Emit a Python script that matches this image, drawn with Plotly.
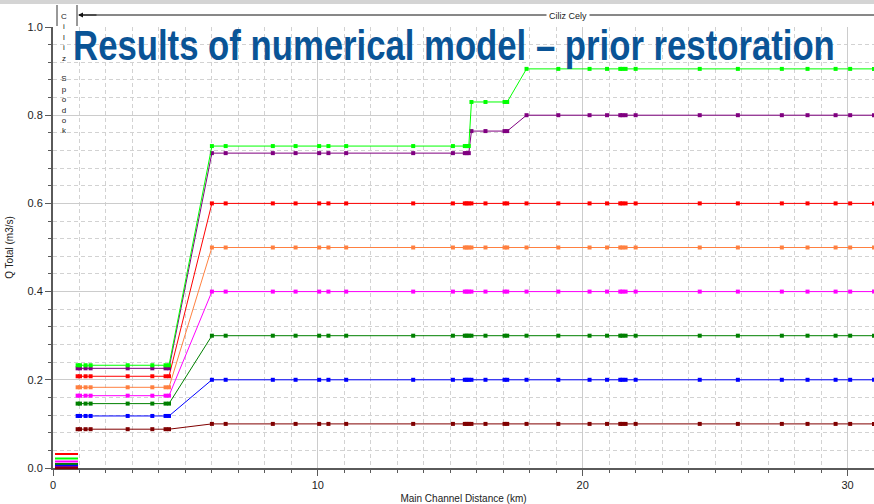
import plotly.graph_objects as go

# Main channel distance of cross sections (km)
distance_km = [0.93, 1.02, 1.23, 1.42, 2.82, 3.75, 4.25, 4.38,
               6.0, 6.52, 8.30, 9.16, 10.05, 10.4, 11.07, 13.6, 15.1, 15.55, 15.62, 15.7,
               15.8,
               16.33, 17.05, 17.15,
               17.88, 19.08, 20.26, 20.92, 21.42, 21.5, 21.62, 22.0, 24.42, 25.86, 27.52,
               28.49, 29.55, 30.1, 31.0]

q_lime = [0.233, 0.233, 0.233, 0.233, 0.233, 0.233, 0.233, 0.233,
          0.73, 0.73, 0.73, 0.73, 0.73, 0.73, 0.73, 0.73, 0.73, 0.73, 0.73, 0.73,
          0.83,
          0.83, 0.83, 0.83,
          0.905, 0.905, 0.905, 0.905, 0.905, 0.905, 0.905, 0.905, 0.905, 0.905, 0.905,
          0.905, 0.905, 0.905, 0.905]
q_purple = [0.226, 0.226, 0.226, 0.226, 0.226, 0.226, 0.226, 0.226,
            0.714, 0.714, 0.714, 0.714, 0.714, 0.714, 0.714, 0.714, 0.714, 0.714, 0.714, 0.714,
            0.764,
            0.764, 0.764, 0.764,
            0.80, 0.80, 0.80, 0.80, 0.80, 0.80, 0.80, 0.80, 0.80, 0.80, 0.80,
            0.80, 0.80, 0.80, 0.80]
q_red = [0.208, 0.208, 0.208, 0.208, 0.208, 0.208, 0.208, 0.208,
         0.60, 0.60, 0.60, 0.60, 0.60, 0.60, 0.60, 0.60, 0.60, 0.60, 0.60, 0.60,
         0.60,
         0.60, 0.60, 0.60,
         0.60, 0.60, 0.60, 0.60, 0.60, 0.60, 0.60, 0.60, 0.60, 0.60, 0.60,
         0.60, 0.60, 0.60, 0.60]
q_orange = [0.183, 0.183, 0.183, 0.183, 0.183, 0.183, 0.183, 0.183,
            0.50, 0.50, 0.50, 0.50, 0.50, 0.50, 0.50, 0.50, 0.50, 0.50, 0.50, 0.50,
            0.50,
            0.50, 0.50, 0.50,
            0.50, 0.50, 0.50, 0.50, 0.50, 0.50, 0.50, 0.50, 0.50, 0.50, 0.50,
            0.50, 0.50, 0.50, 0.50]
q_magenta = [0.164, 0.164, 0.164, 0.164, 0.164, 0.164, 0.164, 0.164,
             0.40, 0.40, 0.40, 0.40, 0.40, 0.40, 0.40, 0.40, 0.40, 0.40, 0.40, 0.40,
             0.40,
             0.40, 0.40, 0.40,
             0.40, 0.40, 0.40, 0.40, 0.40, 0.40, 0.40, 0.40, 0.40, 0.40, 0.40,
             0.40, 0.40, 0.40, 0.40]
q_green = [0.146, 0.146, 0.146, 0.146, 0.146, 0.146, 0.146, 0.146,
           0.30, 0.30, 0.30, 0.30, 0.30, 0.30, 0.30, 0.30, 0.30, 0.30, 0.30, 0.30,
           0.30,
           0.30, 0.30, 0.30,
           0.30, 0.30, 0.30, 0.30, 0.30, 0.30, 0.30, 0.30, 0.30, 0.30, 0.30,
           0.30, 0.30, 0.30, 0.30]
q_blue = [0.118, 0.118, 0.118, 0.118, 0.118, 0.118, 0.118, 0.118,
          0.20, 0.20, 0.20, 0.20, 0.20, 0.20, 0.20, 0.20, 0.20, 0.20, 0.20, 0.20,
          0.20,
          0.20, 0.20, 0.20,
          0.20, 0.20, 0.20, 0.20, 0.20, 0.20, 0.20, 0.20, 0.20, 0.20, 0.20,
          0.20, 0.20, 0.20, 0.20]
q_maroon = [0.088, 0.088, 0.088, 0.088, 0.088, 0.088, 0.088, 0.088,
            0.10, 0.10, 0.10, 0.10, 0.10, 0.10, 0.10, 0.10, 0.10, 0.10, 0.10, 0.10,
            0.10,
            0.10, 0.10, 0.10,
            0.10, 0.10, 0.10, 0.10, 0.10, 0.10, 0.10, 0.10, 0.10, 0.10, 0.10,
            0.10, 0.10, 0.10, 0.10]

series_names = ["PF 8", "PF 7", "PF 6", "PF 5", "PF 4", "PF 3", "PF 2", "PF 1"]
series_values = [q_maroon, q_blue, q_green, q_magenta, q_orange, q_red, q_purple, q_lime]
series_colors = ["#800000", "#0000FF", "#008000", "#FF00FF", "#FF8040", "#FF0000", "#800080", "#00FF00"]

title_text = "Results of numerical model \u2013 prior restoration"
reach_upper = "Ciliz Spodok"
reach_main = "Ciliz Cely"

fig = go.Figure()
for name, vals, col in zip(series_names, series_values, series_colors):
    fig.add_trace(go.Scatter(
        x=distance_km, y=vals, mode="lines+markers", name=name,
        line=dict(color=col, width=1),
        marker=dict(symbol="square", size=4, color=col),
        cliponaxis=True,
    ))

L, T, B = 53, 27, 36
W, H = 874, 504
pw = W - L
ph = H - T - B


def px_x(p):
    return (p - L) / pw


def px_y(p):
    return (H - B - p) / ph


shapes = []
# window strip at very top
shapes.append(dict(type="rect", xref="paper", yref="paper", x0=px_x(0), x1=px_x(874),
                   y0=px_y(4), y1=px_y(0), fillcolor="#d4d4d4", line=dict(width=0), layer="above"))
# upper reach box lines
for xp in (57, 77):
    shapes.append(dict(type="line", xref="paper", yref="paper", x0=px_x(xp), x1=px_x(xp),
                       y0=px_y(26), y1=px_y(5), line=dict(color="#333333", width=1)))
# main reach arrow line
shapes.append(dict(type="line", xref="paper", yref="paper", x0=px_x(79), x1=1.0,
                   y0=px_y(15), y1=px_y(15), line=dict(color="#111111", width=1)))
# compressed legend swatches at bottom-left
sw = [("#FF0000", 454), ("#00FF00", 458.5), ("#FF00FF", 461.5), ("#008000", 464),
      ("#0000FF", 465.8), ("#800080", 467), ("#800000", 468.2)]
for col, yp in sw:
    shapes.append(dict(type="line", xref="paper", yref="paper", x0=px_x(55), x1=px_x(78),
                       y0=px_y(yp), y1=px_y(yp), line=dict(color=col, width=2), layer="above"))

vertical_label = "<br>".join(ch if ch != " " else "" for ch in reach_upper)

annotations = [
    dict(text=title_text, xref="paper", yref="paper",
         x=px_x(454), y=px_y(46), xanchor="center", yanchor="middle", showarrow=False,
         font=dict(family="Liberation Sans", size=42, color="#0a5496", weight=700)),
    dict(text=vertical_label,
         xref="paper", yref="paper", x=px_x(64), y=px_y(10), xanchor="center", yanchor="top",
         showarrow=False, font=dict(family="Liberation Sans", size=8, color="#222222")),
    dict(text=reach_main, xref="paper", yref="paper", x=px_x(568), y=px_y(16),
         xanchor="center", yanchor="middle", showarrow=False, bgcolor="white",
         borderpad=2, font=dict(family="Liberation Sans", size=9, color="#222222")),
    dict(text="", xref="paper", yref="paper", x=px_x(78), y=px_y(15), ax=20, ay=0,
         showarrow=True, arrowhead=2, arrowsize=1, arrowwidth=1, arrowcolor="#111111"),
]

fig.update_layout(
    width=W, height=H,
    margin=dict(l=L, r=0, t=T, b=B, autoexpand=False),
    paper_bgcolor="white", plot_bgcolor="white",
    showlegend=False,
    shapes=shapes, annotations=annotations,
    font=dict(family="Liberation Sans", size=11, color="#222222"),
)
fig.update_xaxes(
    automargin=False,
    range=[0, 31.0], dtick=10, tick0=0,
    showgrid=True, gridcolor="#cccccc", gridwidth=1,
    showline=True, linecolor="#5a5a5a", linewidth=2,
    ticks="outside", ticklen=6, tickcolor="#5a5a5a",
    zeroline=False,
    minor=dict(dtick=1, showgrid=True, gridcolor="#d2d2d2", griddash="4px,3px",
               ticks="outside", ticklen=3, tickcolor="#5a5a5a"),
    title=dict(text="Main Channel Distance (km)", font=dict(size=10, color="#222222"), standoff=6),
    tickfont=dict(size=11, color="#222222"),
)
fig.update_yaxes(
    automargin=False,
    range=[0, 1.0], dtick=0.2, tick0=0, tickformat=".1f",
    showgrid=True, gridcolor="#cccccc", gridwidth=1,
    showline=True, linecolor="#5a5a5a", linewidth=2,
    ticks="outside", ticklen=6, tickcolor="#5a5a5a",
    zeroline=False,
    minor=dict(dtick=0.04, showgrid=True, gridcolor="#d2d2d2", griddash="4px,3px",
               ticks="outside", ticklen=3, tickcolor="#5a5a5a"),
    title=dict(text="Q Total (m3/s)", font=dict(size=10, color="#222222"), standoff=12),
    tickfont=dict(size=11, color="#222222"),
)

# remove page margin; condense the bold title horizontally to match the narrow typeface
post_js = """
(function(){
  document.body.style.margin = '0';
  document.body.style.padding = '0';
  var gd = document.getElementById('{plot_id}');
  function squeeze(){
    var t = gd.querySelector('.annotation[data-index="0"] text.annotation-text');
    if(!t) return;
    t.style.transformBox = 'fill-box';
    t.style.transformOrigin = 'center';
    t.style.transform = 'none';
    var w = t.getBBox().width;
    if(w > 0){ t.style.transform = 'scaleX(' + (762 / w) + ')'; }
  }
  squeeze();
  gd.on && gd.on('plotly_afterplot', squeeze);
})();
"""

fig.write_html("out.html", post_script=post_js, config={"displayModeBar": False})
